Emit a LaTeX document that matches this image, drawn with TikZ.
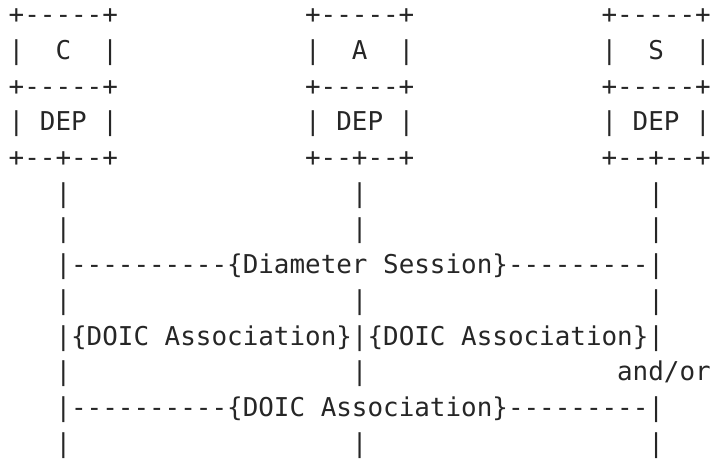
\documentclass[tikz,border=0pt]{standalone}
\usepackage{fontspec}
\setmonofont{DejaVu Sans Mono}
\usetikzlibrary{positioning}
\definecolor{ink}{HTML}{262626}
\tikzset{
  ascii/.style={anchor=base west, inner sep=0pt, outer sep=0pt, text=ink,
    font=\ttfamily\fontsize{12.96}{15}\selectfont}
}

\begin{document}
\begin{tikzpicture}[x=7.8pt, y=-17.85pt]
            \useasboundingbox (-0.558,-0.664) rectangle (45.083,12.193);
            % C box
            \node[ascii] (cTop) at (0,0) {+-----+};
            \node[ascii] (cName) at (0,1) {|~~C~~|};
            \node[ascii] (cMid) at (0,2) {+-----+};
            \node[ascii] (cDep) at (0,3) {|~DEP~|};
            \node[ascii] (cBot) at (0,4) {+--+--+};
            %
            % A box
            \node[ascii] (aTop) at (19,0) {+-----+};
            \node[ascii] (aName) at (19,1) {|~~A~~|};
            \node[ascii] (aMid) at (19,2) {+-----+};
            \node[ascii] (aDep) at (19,3) {|~DEP~|};
            \node[ascii] (aBot) at (19,4) {+--+--+};
            %
            % S box
            \node[ascii] (sTop) at (38,0) {+-----+};
            \node[ascii] (sName) at (38,1) {|~~S~~|};
            \node[ascii] (sMid) at (38,2) {+-----+};
            \node[ascii] (sDep) at (38,3) {|~DEP~|};
            \node[ascii] (sBot) at (38,4) {+--+--+};
            %
            % lifelines
            \node[ascii] (cLine5) at (3,5) {|};
            \node[ascii] (aLine5) at (22,5) {|};
            \node[ascii] (sLine5) at (41,5) {|};
            \node[ascii] (cLine6) at (3,6) {|};
            \node[ascii] (aLine6) at (22,6) {|};
            \node[ascii] (sLine6) at (41,6) {|};
            \node[ascii] (cLine8) at (3,8) {|};
            \node[ascii] (aLine8) at (22,8) {|};
            \node[ascii] (sLine8) at (41,8) {|};
            \node[ascii] (cLine10) at (3,10) {|};
            \node[ascii] (aLine10) at (22,10) {|};
            \node[ascii] (andor) at (39,10) {and/or};
            \node[ascii] (cLine12) at (3,12) {|};
            \node[ascii] (aLine12) at (22,12) {|};
            \node[ascii] (sLine12) at (41,12) {|};
            %
            % sessions and associations
            \node[ascii] (session) at (3,7) {|----------\{Diameter Session\}---------|};
            \node[ascii] (assocCA) at (3,9) {|\{DOIC Association\}|\{DOIC Association\}|};
            \node[ascii] (assocCS) at (3,11) {|----------\{DOIC Association\}---------|};
        \end{tikzpicture}
\end{document}
